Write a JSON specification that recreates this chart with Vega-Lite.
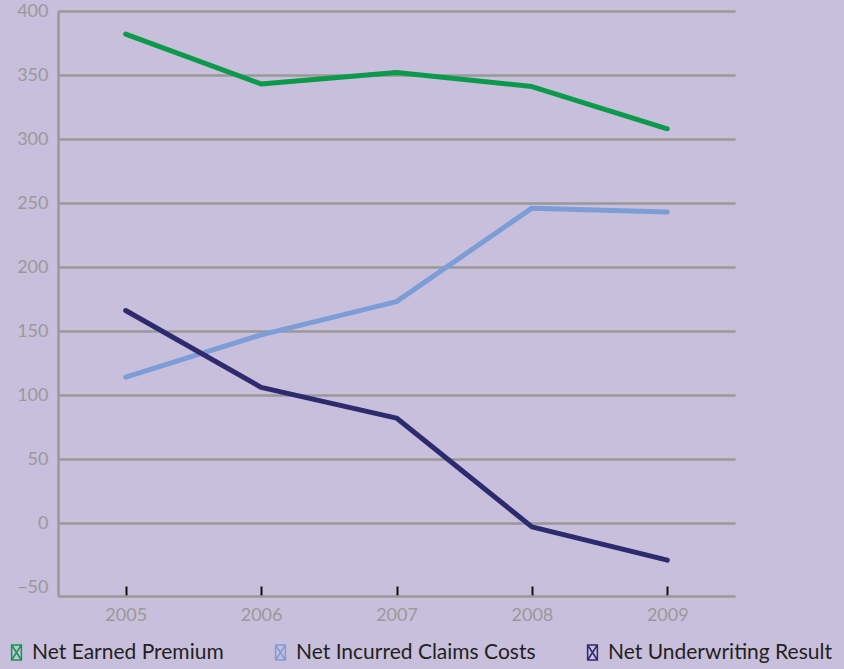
{
  "$schema": "https://vega.github.io/schema/vega-lite/v6.json",
  "autosize": {"type": "none"},
  "width": 677,
  "height": 585,
  "padding": {"left": 58, "top": 11, "right": 109, "bottom": 73},
  "background": "#c8bfdc",
  "config": {
    "view": {"stroke": null},
    "font": "Lato"
  },
  "data": {
    "values": [
      {"year": "2005", "series": "Net Earned Premium", "value": 382},
      {"year": "2006", "series": "Net Earned Premium", "value": 343},
      {"year": "2007", "series": "Net Earned Premium", "value": 352},
      {"year": "2008", "series": "Net Earned Premium", "value": 341},
      {"year": "2009", "series": "Net Earned Premium", "value": 308},
      {"year": "2005", "series": "Net Incurred Claims Costs", "value": 114},
      {"year": "2006", "series": "Net Incurred Claims Costs", "value": 147},
      {"year": "2007", "series": "Net Incurred Claims Costs", "value": 173},
      {"year": "2008", "series": "Net Incurred Claims Costs", "value": 246},
      {"year": "2009", "series": "Net Incurred Claims Costs", "value": 243},
      {"year": "2005", "series": "Net Underwriting Result", "value": 166},
      {"year": "2006", "series": "Net Underwriting Result", "value": 106},
      {"year": "2007", "series": "Net Underwriting Result", "value": 82},
      {"year": "2008", "series": "Net Underwriting Result", "value": -3},
      {"year": "2009", "series": "Net Underwriting Result", "value": -29}
    ]
  },
  "mark": {"type": "line", "strokeWidth": 5, "strokeCap": "round", "strokeJoin": "round"},
  "encoding": {
    "x": {
      "field": "year",
      "type": "ordinal",
      "scale": {"type": "point", "padding": 0.5},
      "axis": {
        "title": null,
        "labelAngle": 0,
        "domainColor": "#999999",
        "domainWidth": 2.5,
        "tickColor": "#111111",
        "tickWidth": 2,
        "tickSize": -10,
        "labelPadding": 20,
        "labelColor": "#999999",
        "labelFontSize": 18,
        "grid": false
      }
    },
    "y": {
      "field": "value",
      "type": "quantitative",
      "scale": {"domain": [-57, 400], "nice": false, "zero": false},
      "axis": {
        "title": null,
        "values": [-50, 0, 50, 100, 150, 200, 250, 300, 350, 400],
        "domainColor": "#999999",
        "domainWidth": 2.5,
        "ticks": false,
        "grid": true,
        "gridColor": {"condition": {"test": "datum.value == -50", "value": "transparent"}, "value": "#999999"},
        "gridWidth": 2.5,
        "labelColor": "#999999",
        "labelFontSize": 18,
        "labelPadding": 10
      }
    },
    "color": {
      "field": "series",
      "type": "nominal",
      "scale": {
        "domain": ["Net Earned Premium", "Net Incurred Claims Costs", "Net Underwriting Result"],
        "range": ["#0b9a4b", "#7d9dd6", "#2d2a6d"]
      },
      "legend": {
        "title": null,
        "orient": "none",
        "direction": "horizontal",
        "legendX": -52,
        "legendY": 631,
        "padding": 0,
        "symbolType": "M-0.65,-1H0.65V1H-0.65Z M-0.65,-1L0.65,1 M0.65,-1L-0.65,1",
        "symbolSize": 225,
        "symbolStrokeWidth": 1.5,
        "symbolFillColor": "transparent",
        "labelFontSize": 21,
        "labelColor": "#231f20",
        "labelOffset": 5,
        "columnPadding": 46,
        "labelLimit": 400
      }
    }
  }
}
